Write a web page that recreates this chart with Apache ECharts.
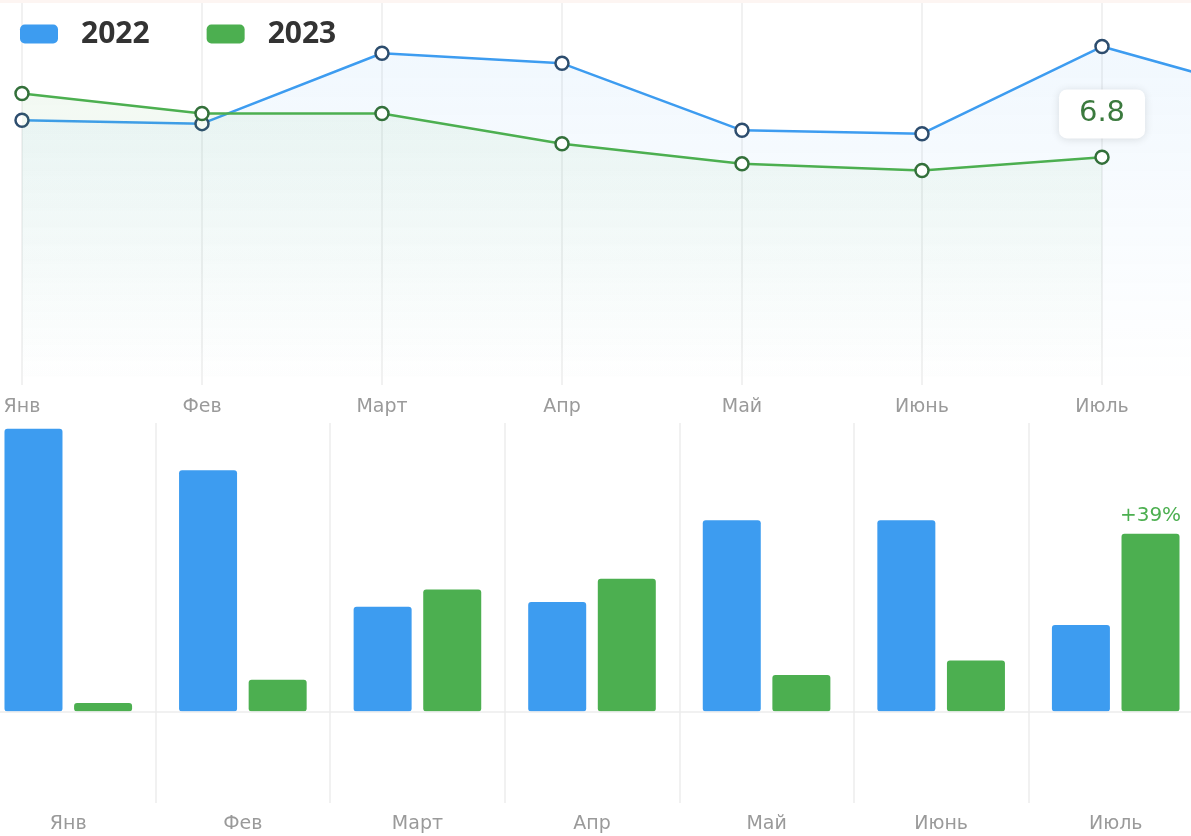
<!DOCTYPE html>
<html>
<head>
<meta charset="utf-8">
<script src="https://cdn.jsdelivr.net/npm/echarts@6/dist/echarts.min.js"></script>
<style>
html,body{margin:0;padding:0;background:#fff;}
#c{width:1191px;height:836px;}
</style>
</head>
<body>
<div id="c"></div>
<script>
const lineMonths = ['Янв','Фев','Март','Апр','Май','Июнь','Июль','Авг'];
const line2022 = [7.9, 7.8, 9.9, 9.6, 7.6, 7.5, 10.1, 8.6];
const line2023 = [8.7, 8.1, 8.1, 7.2, 6.6, 6.4, 6.8];
const barMonths = ['Янв','Фев','Март','Апр','Май','Июнь','Июль'];
const bar2022 = [29.4, 25.1, 10.9, 11.4, 19.9, 19.9, 9.0];
const bar2023 = [0.9, 3.3, 12.7, 13.8, 3.8, 5.3, 18.5];
const barNote = '+39%';
const noteIndex = 6;

const BLUE = '#3d9cf0', GREEN = '#4caf50';
const LFONT = 'DejaVu Sans';

const chart = echarts.init(document.getElementById('c'));
chart.setOption({
  animation: false,
  textStyle: {fontFamily: LFONT},
  graphic: [{type:'rect', left:0, top:0, shape:{width:1191, height:3}, style:{fill:'#fdf5f2'}, z:-1}],
  legend: {
    left: 15, top: 14, itemWidth: 38, itemHeight: 19, itemGap: 57,
    icon: 'roundRect',
    textStyle: {fontSize: 30, fontWeight: 'bold', color: '#333', fontFamily: 'Noto Sans', padding:[0,0,0,18]},
    data: [
      {name:'2022', itemStyle:{color: BLUE, borderWidth:0}},
      {name:'2023', itemStyle:{color: GREEN, borderWidth:0}}
    ]
  },
  grid: [
    {left: 22, width: 1260, top: 3, height: 382, outerBoundsMode: 'none', containLabel: false},
    {left: -19, width: 1222, top: 423, height: 380, outerBoundsMode: 'none', containLabel: false}
  ],
  xAxis: [
    {gridIndex:0, type:'category', data: lineMonths, boundaryGap:false,
     axisLine:{show:false}, axisTick:{show:false},
     axisLabel:{color:'#9a9a9a', fontSize:19, margin:13, fontFamily: LFONT},
     splitLine:{show:true, lineStyle:{color:'#ececec', width:1.5}}},
    {gridIndex:1, type:'category', data: barMonths, boundaryGap:true,
     axisLine:{show:false, onZero:false}, axisTick:{show:false},
     axisLabel:{color:'#9a9a9a', fontSize:19, margin:12, fontFamily: LFONT},
     splitLine:{show:true, lineStyle:{color:'#ececec', width:1.5}}}
  ],
  yAxis: [
    {gridIndex:0, type:'value', min:0, max:11.4, show:false, splitLine:{show:false}},
    {gridIndex:1, type:'value', min:-9.5, max:30, show:false, splitLine:{show:false}}
  ],
  series: [
    {name:'2022', type:'line', xAxisIndex:0, yAxisIndex:0, data: line2022,
     color: BLUE,
     lineStyle:{width:2.5, color: BLUE},
     symbol:'circle', symbolSize:13, showAllSymbol:true,
     itemStyle:{color:'#fff', borderColor:'#2d4d6e', borderWidth:2.5},
     areaStyle:{color: new echarts.graphic.LinearGradient(0,0,0,1,[{offset:0,color:'rgba(61,156,240,0.10)'},{offset:1,color:'rgba(61,156,240,0.0)'}])},
     z:2},
    {name:'2023', type:'line', xAxisIndex:0, yAxisIndex:0, data: line2023.map((v,i)=> i===line2023.length-1 ? {value:v, label:{show:true}} : v),
     color: GREEN,
     lineStyle:{width:2.5, color: GREEN},
     symbol:'circle', symbolSize:13,
     itemStyle:{color:'#fff', borderColor:'#33703a', borderWidth:2.5},
     areaStyle:{color: new echarts.graphic.LinearGradient(0,0,0,1,[{offset:0,color:'rgba(76,175,80,0.10)'},{offset:1,color:'rgba(76,175,80,0.0)'}])},
     label:{show:false, position:'top', distance:11, formatter:'{c}', color:'#3b7a3e', fontSize:29, fontFamily: LFONT,
       backgroundColor:'#fff', borderRadius:8, padding:[10,20,10,20],
       shadowBlur:8, shadowColor:'rgba(0,0,0,0.12)', shadowOffsetY:1},
     z:3},
    {name:'2022', type:'bar', xAxisIndex:1, yAxisIndex:1, data: bar2022,
     barWidth:58, barGap:'20%', itemStyle:{color: BLUE, borderRadius:3},
     markLine:{silent:true, symbol:'none', label:{show:false}, lineStyle:{color:'#ececec', type:'solid', width:1.5}, data:[{yAxis:0}]}},
    {name:'2023', type:'bar', xAxisIndex:1, yAxisIndex:1,
     data: bar2023.map((v,i)=> i===noteIndex ? {value:v, label:{show:true, formatter: barNote}} : v),
     barWidth:58, barGap:'20%', itemStyle:{color: GREEN, borderRadius:3},
     label:{show:false, position:'top', distance:8, color: GREEN, fontSize:20, fontFamily: LFONT}}
  ]
});
</script>
</body>
</html>
